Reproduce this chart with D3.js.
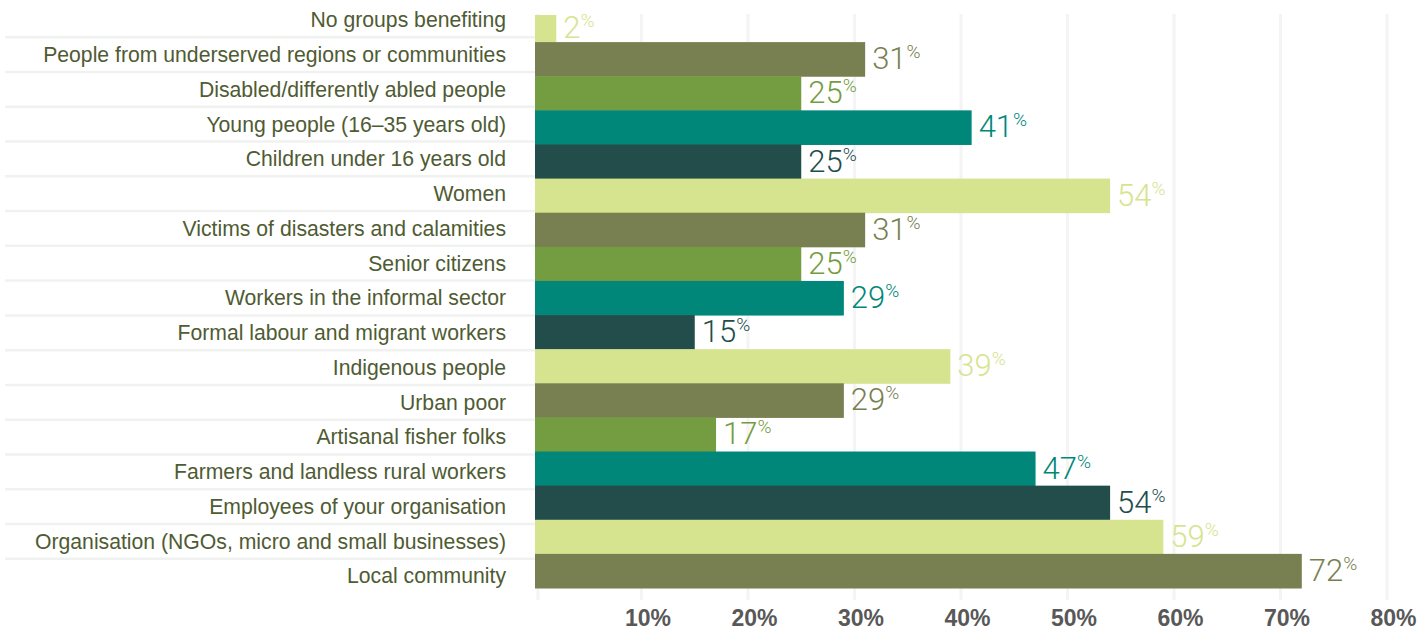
<!DOCTYPE html>
<html>
<head>
<meta charset="utf-8">
<script src="https://cdn.jsdelivr.net/npm/d3@7"></script>
<style>
  html, body { margin: 0; padding: 0; background: #ffffff; }
  svg { display: block; }
</style>
</head>
<body>
<svg id="chart" width="1424" height="630"></svg>
<script>
const categories = [
  "No groups benefiting",
  "People from underserved regions or communities",
  "Disabled/differently abled people",
  "Young people (16\u201335 years old)",
  "Children under 16 years old",
  "Women",
  "Victims of disasters and calamities",
  "Senior citizens",
  "Workers in the informal sector",
  "Formal labour and migrant workers",
  "Indigenous people",
  "Urban poor",
  "Artisanal fisher folks",
  "Farmers and landless rural workers",
  "Employees of your organisation",
  "Organisation (NGOs, micro and small businesses)",
  "Local community"
];
const values = [2, 31, 25, 41, 25, 54, 31, 25, 29, 15, 39, 29, 17, 47, 54, 59, 72];
const palette = ["#d6e48f", "#787f50", "#749c40", "#00877a", "#234d4b"];
const tickValues = [10, 20, 30, 40, 50, 60, 70, 80];

const svg = d3.select("#chart");

const x = d3.scaleLinear().domain([0, 80]).range([535, 1387]);
const y = d3.scaleBand().domain(categories).range([8, 588]).paddingInner(0).paddingOuter(0);
const yLabel = d3.scaleBand().domain(categories).range([2.6, 593.4]).padding(0);

const plotTop = 14, plotBottom = 600;

svg.append("defs").append("clipPath").attr("id", "plotclip")
  .append("rect").attr("x", 0).attr("y", plotTop + 1).attr("width", 1424).attr("height", 630 - plotTop);

// row separators on the label side
svg.append("g").selectAll("line")
  .data(categories.slice(1))
  .join("line")
  .attr("x1", 5).attr("x2", x(0))
  .attr("y1", d => yLabel(d)).attr("y2", d => yLabel(d))
  .attr("stroke", "#f0f2f0").attr("stroke-width", 2.5);

// vertical gridlines
svg.append("g").selectAll("line")
  .data([0].concat(tickValues))
  .join("line")
  .attr("x1", d => x(d) + (d === 0 ? 3 : 0)).attr("x2", d => x(d) + (d === 0 ? 3 : 0))
  .attr("y1", plotTop).attr("y2", plotBottom)
  .attr("stroke", "#f4f4f4").attr("stroke-width", 3);

// bars
svg.append("g").attr("clip-path", "url(#plotclip)").selectAll("rect")
  .data(values)
  .join("rect")
  .attr("x", x(0))
  .attr("y", (d, i) => y(categories[i]))
  .attr("width", d => x(d) - x(0))
  .attr("height", y.bandwidth() + 0.5)
  .attr("fill", (d, i) => palette[i % palette.length]);

// value labels
const vl = svg.append("g").selectAll("text")
  .data(values)
  .join("text")
  .attr("x", d => x(d) + 7)
  .attr("y", (d, i) => Math.max(y(categories[i]), plotTop) + (y(categories[i]) + y.bandwidth() - Math.max(y(categories[i]), plotTop)) / 2 + 10)
  .attr("fill", (d, i) => palette[i % palette.length])
  .style("font-family", "Roboto, 'Open Sans', sans-serif")
  .style("font-weight", 300)
  .style("font-size", "31px");
vl.append("tspan").text(d => d);
vl.append("tspan").text("%")
  .attr("dy", -11)
  .style("font-size", "19px");

// category labels
svg.append("g").selectAll("text")
  .data(categories)
  .join("text")
  .attr("x", 506)
  .attr("y", d => yLabel(d) + yLabel.bandwidth() / 2)
  .attr("dy", "0.35em")
  .attr("text-anchor", "end")
  .attr("fill", "#4f5b33")
  .style("font-family", "'Liberation Sans', Arial, sans-serif")
  .style("font-size", "21.2px")
  .text(d => d);

// x axis tick labels
const axis = d3.axisBottom(x).tickValues(tickValues).tickFormat(d => d + "%").tickSize(0);
const ax = svg.append("g").attr("transform", "translate(6, 626)").call(axis);
ax.select(".domain").remove();
ax.selectAll("text")
  .attr("dy", 0)
  .attr("y", 0)
  .attr("fill", "#585858")
  .style("font-family", "'Liberation Sans', Arial, sans-serif")
  .style("font-weight", "bold")
  .style("font-size", "23px");
</script>
</body>
</html>
